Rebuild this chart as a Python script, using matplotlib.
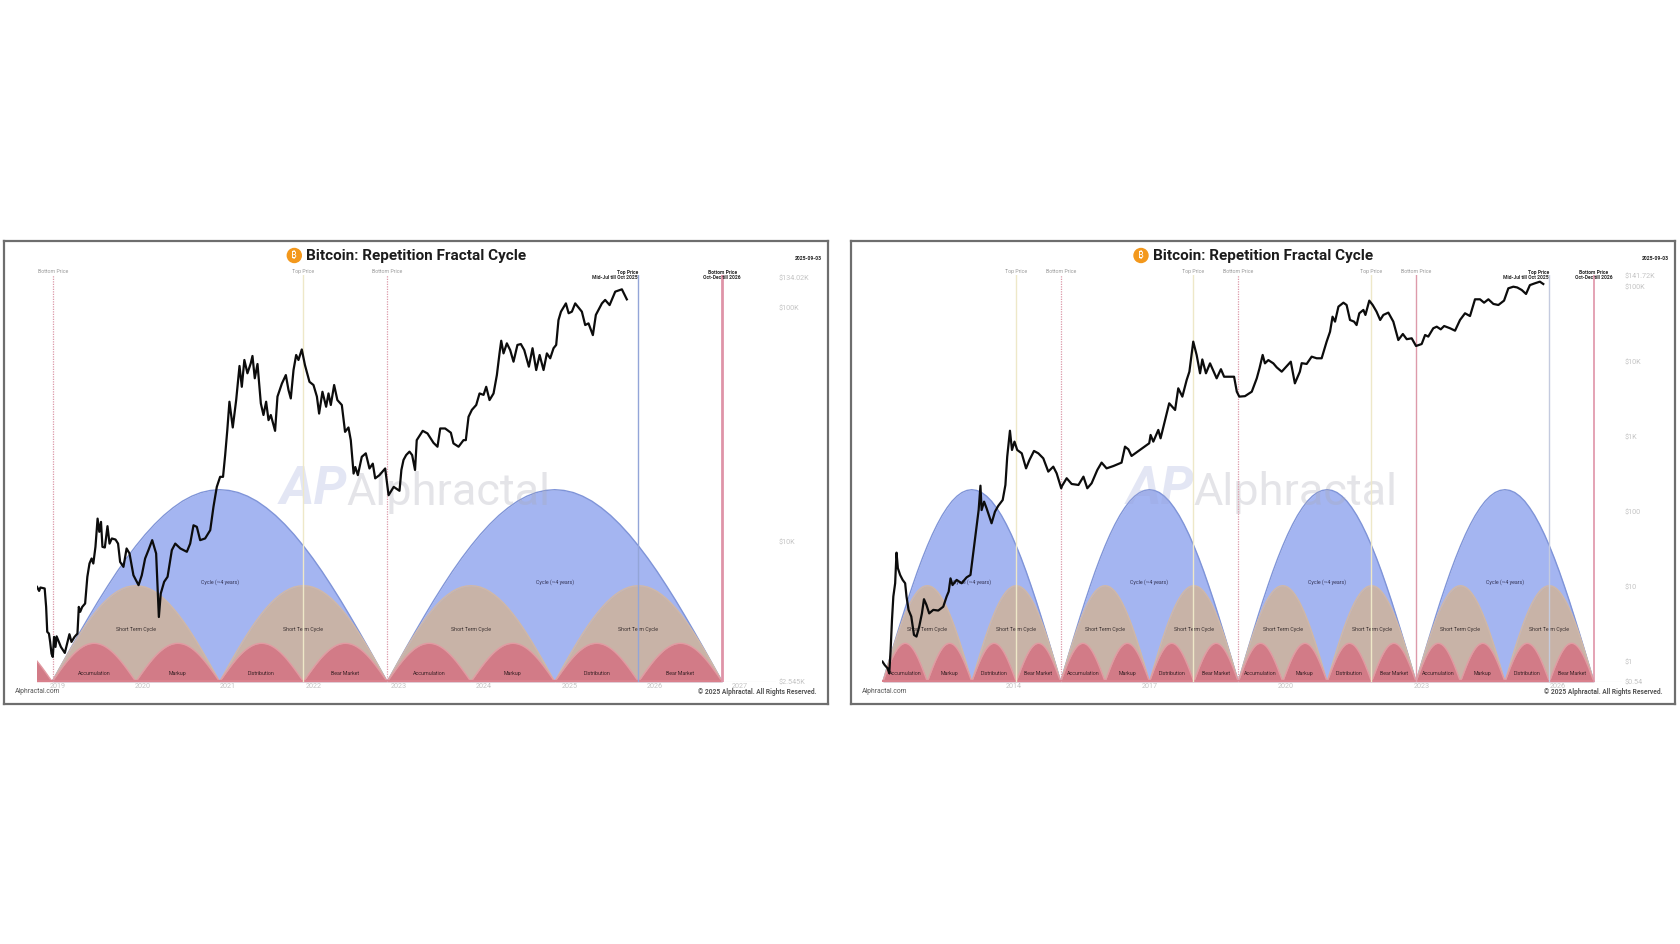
import matplotlib
matplotlib.use("Agg")
import matplotlib.pyplot as plt
from matplotlib.patches import Circle
from matplotlib.transforms import blended_transform_factory

W, H = 1680, 944
plt.rcParams['font.family'] = ['Roboto', 'DejaVu Sans']

TITLE = "Bitcoin: Repetition Fractal Cycle"

# ---- left panel data (last two cycles) ----
left_years = [2018.76,2018.785,2018.80,2018.85,2018.867,2018.88,2018.90,2018.914,2018.93,2018.945,2018.96,2018.977,2018.99,
 2019.016,2019.04,2019.086,2019.117,2019.14,2019.164,2019.2,2019.234,2019.25,2019.266,2019.29,2019.324,2019.35,2019.375,
 2019.40,2019.42,2019.445,2019.47,2019.49,2019.51,2019.527,2019.555,2019.586,2019.61,2019.637,2019.68,2019.71,2019.734,
 2019.773,2019.81,2019.844,2019.89,2019.95,2019.988,2020.027,2020.066,2020.11,2020.156,2020.188,2020.21,2020.25,2020.29,
 2020.34,2020.38,2020.44,2020.516,2020.555,2020.594,2020.633,2020.672,2020.73,2020.79,2020.828,2020.867,2020.906,2020.94,
 2020.965,2020.99,2021.015,2021.054,2021.094,2021.133,2021.16,2021.19,2021.226,2021.265,2021.285,2021.312,2021.344,2021.383,
 2021.414,2021.445,2021.473,2021.50,2021.55,2021.578,2021.63,2021.676,2021.707,2021.734,2021.766,2021.797,2021.824,2021.863,
 2021.90,2021.953,2022.0,2022.04,2022.066,2022.105,2022.148,2022.176,2022.203,2022.242,2022.28,2022.332,2022.37,2022.41,
 2022.437,2022.47,2022.49,2022.52,2022.566,2022.613,2022.656,2022.695,2022.723,2022.773,2022.84,2022.88,2022.94,2023.008,
 2023.03,2023.055,2023.086,2023.125,2023.156,2023.19,2023.21,2023.28,2023.336,2023.406,2023.453,2023.485,2023.543,2023.61,
 2023.64,2023.70,2023.758,2023.785,2023.817,2023.856,2023.907,2023.946,2023.993,2024.024,2024.063,2024.11,2024.149,2024.18,
 2024.2,2024.227,2024.266,2024.305,2024.344,2024.39,2024.43,2024.47,2024.524,2024.567,2024.61,2024.65,2024.696,2024.735,
 2024.774,2024.813,2024.844,2024.871,2024.9,2024.958,2024.99,2025.028,2025.067,2025.145,2025.184,2025.223,2025.274,2025.309,
 2025.38,2025.418,2025.47,2025.536,2025.614,2025.672]
left_prices = [6450,6200,6410,6350,5300,4150,4080,3760,3350,3245,3950,3580,3970,
 3760,3580,3375,3760,4055,3760,3950,4080,5300,5050,5300,5480,7120,8110,
 8520,8110,9550,12600,11070,12200,9550,9490,11700,9860,10370,10260,9860,8240,
 7850,9400,8950,7230,6560,7230,8520,9250,10200,8950,4800,6040,6780,7120,
 9250,9860,9400,9100,9860,11800,11620,10200,10370,11250,14150,17200,18980,18980,
 23500,30000,39650,30800,40300,56300,45900,59700,52400,57800,62100,49900,57400,39000,
 34800,39650,33100,34800,29800,41700,47400,51500,44500,40950,54100,62700,59700,66200,
 56800,48200,46700,41700,35300,43700,37750,43000,38400,46700,40300,38400,29500,30800,
 27200,19600,20900,19300,23100,23900,20600,21600,18700,19300,20600,15850,17200,16550,
 20300,22400,23500,24300,23500,20300,27200,29800,29050,26500,25500,30500,30500,29250,
 26350,25500,27200,27200,34200,36600,38400,43000,42400,45900,40300,43000,51500,63700,
 72100,63700,70300,65800,58700,69200,69800,65800,55900,67000,54100,62700,54100,63700,
 60700,67000,69200,88300,95900,104000,94400,95900,104000,95900,84100,85500,76200,92900,
 104000,107600,102300,116700,119400,108200]

# ---- right panel data (full history) ----
right_years = [2011.11,2011.16,2011.22,2011.26,2011.29,2011.32,2011.35,2011.39,2011.42,2011.45,2011.5,2011.555,2011.61,2011.64,
 2011.685,2011.745,2011.805,2011.86,2011.92,2011.98,2012.025,2012.08,2012.14,2012.23,2012.34,2012.45,2012.525,2012.57,2012.61,
 2012.655,2012.745,2012.855,2012.965,2013.05,2013.11,2013.185,2013.23,2013.27,2013.295,2013.35,2013.405,2013.515,2013.59,2013.66,
 2013.76,2013.82,2013.86,2013.92,2013.965,2014.02,2014.08,2014.18,2014.275,2014.35,2014.45,2014.545,2014.655,2014.765,2014.875,
 2014.95,2015.05,2015.06,2015.17,2015.28,2015.43,2015.54,2015.625,2015.72,2015.846,2015.94,2016.05,2016.2,2016.38,2016.456,2016.53,
 2016.6,2016.785,2016.99,2017.02,2017.08,2017.19,2017.24,2017.34,2017.43,2017.56,2017.63,2017.72,2017.815,2017.875,2017.96,2018.035,
 2018.11,2018.16,2018.24,2018.33,2018.476,2018.57,2018.64,2018.86,2018.92,2018.975,2019.1,2019.25,2019.36,2019.42,2019.49,2019.54,
 2019.615,2019.725,2019.8,2019.91,2020.11,2020.2,2020.31,2020.35,2020.46,2020.57,2020.68,2020.79,2020.9,2020.975,2021.03,2021.085,
 2021.16,2021.27,2021.34,2021.415,2021.505,2021.56,2021.62,2021.71,2021.755,2021.84,2021.915,2022.0,2022.08,2022.15,2022.26,2022.37,
 2022.48,2022.58,2022.665,2022.775,2022.87,2022.995,2023.07,2023.14,2023.25,2023.327,2023.415,2023.49,2023.62,2023.73,2023.84,2023.95,
 2024.06,2024.17,2024.28,2024.37,2024.465,2024.575,2024.685,2024.81,2024.905,2025.015,2025.1,2025.2,2025.295,2025.38,2025.49,2025.6,2025.675]
right_prices = [1.0,.90,.82,.70,1.43,3.6,7.4,11.1,28.4,17.6,14.3,12.3,11.1,7.4,
 4.9,4.0,2.27,2.16,2.93,4.4,6.8,5.7,4.4,4.9,4.8,5.4,7.4,8.6,12.9,
 10.5,12.3,11.1,13.3,14.3,27.9,63,105,222,105,136,111,70,100,119,
 143,227,542,1200,665,859,665,600,378,489,645,600,514,342,398,
 324,205,216,279,234,227,293,205,239,360,451,378,406,451,736,678,
 553,665,817,1054,859,1230,951,1671,2786,2270,4416,3420,5700,7360,18500,12270,
 7000,10700,7000,9500,6000,7940,6300,6300,3980,3420,3470,3980,6000,8150,12300,9500,
 10500,9500,8400,7360,10000,5140,7360,9550,9330,11670,11100,11100,18500,25100,39800,34200,
 54200,61200,57000,36000,34200,30800,44200,49000,42000,65200,57000,46500,36000,42000,45100,34200,
 19450,23400,19950,20500,16200,17200,22700,21600,27900,29300,27000,29900,27900,25900,36000,44200,
 40600,67900,67900,61200,67900,58900,57000,65200,95100,100000,97700,90400,80000,105000,111000,116700,108600]

# ---- cycle layout ----
left_cycle_edges = [2018.937, 2022.864, 2026.79]
right_cycle_edges = [2011.12, 2015.038, 2018.953, 2022.87, 2026.79]
phase_names = ["Accumulation", "Markup", "Distribution", "Bear Market"]
short_name = "Short Term Cycle"
long_name = "Cycle (~4 years)"
arc_heights = [100, 50, 20]   # long, short, phase
# half arc profile as read from the shape of the domes
arc_profile = [0,.087,.174,.259,.342,.423,.5,.574,.643,.707,.766,.819,.866,.906,.94,.966,.985,.996,1]

left_ticks_x = [2019,2020,2021,2022,2023,2024,2025,2026,2027]
right_ticks_x = [2014,2017,2020,2023,2026]
left_ticks_y = [2545,10000,100000,134020]
left_ticklabels_y = ["$2.545K","$10K","$100K","$134.02K"]
right_ticks_y = [0.54,1,10,100,1000,10000,100000,141720]
right_ticklabels_y = ["$0.54","$1","$10","$100","$1K","$10K","$100K","$141.72K"]

left_vlines = [(2018.945,"Bottom Price",None,'#dc98a8',0.9,(0,(1,1))),
               (2021.875,"Top Price",None,'#eee8c8',1.0,'-'),
               (2022.865,"Bottom Price",None,'#dc98a8',0.9,(0,(1,1))),
               (2025.80,"Top Price","Mid-Jul till Oct 2025",'#93a5d8',1.0,'-'),
               (2026.79,"Bottom Price","Oct-Dec till 2026",'#df94a8',2.0,'-')]
right_vlines = [(2014.05,"Top Price",None,'#eee8c8',1.0,'-'),
                (2015.038,"Bottom Price",None,'#dc98a8',0.9,(0,(1,1))),
                (2017.96,"Top Price",None,'#eee8c8',1.0,'-'),
                (2018.953,"Bottom Price",None,'#dc98a8',0.9,(0,(1,1))),
                (2021.88,"Top Price",None,'#eee8c8',1.0,'-'),
                (2022.87,"Bottom Price",None,'#dd9aaa',1.0,'-'),
                (2025.80,"Top Price","Mid-Jul till Oct 2025",'#c4cbdf',1.0,'-'),
                (2026.79,"Bottom Price","Oct-Dec till 2026",'#df94a8',1.2,'-')]

fig = plt.figure(figsize=(W/100, H/100), dpi=100, facecolor='white')

def px_axes(x0, y0, x1, y1, **kw):
    return fig.add_axes([x0/W, 1-y1/H, (x1-x0)/W, (y1-y0)/H], **kw)

def arc(ax, start, end, height, fill, edge, lw, z):
    half = list(arc_profile) + list(arc_profile[-2::-1])
    n = len(half)-1
    xs = [start + (end-start)*i/n for i in range(n+1)]
    ys = [height*v for v in half]
    ax.fill_between(xs, 0, ys, color=fill, lw=0, zorder=z)
    ax.plot(xs, ys, color=edge, lw=lw, zorder=z+0.1, solid_capstyle='butt')

def panel(frame, box, xlim, ylim, years, prices, edges, ticks_x, ticks_y, labels_y, vlines, wm_px, stub, date_txt):
    fx0, fy0, fx1, fy1 = frame
    fr = px_axes(fx0, fy0, fx1, fy1, zorder=0)
    fr.set_xlim(fx0, fx1); fr.set_ylim(fy1, fy0)
    fr.set_xticks([]); fr.set_yticks([])
    for s in fr.spines.values():
        s.set_color('#6e6e6e'); s.set_linewidth(1.6)
    fr.text(fx0+302, 256, TITLE, fontsize=11, fontweight='bold', color='#1c1c1c', ha='left', va='center', zorder=5)
    fr.add_patch(Circle((fx0+290, 255.5), 7, color='#f3981c', zorder=5))
    fr.text(fx0+290, 255.5, "₿", fontsize=7, color='white', ha='center', va='center',
            family=['Noto Sans', 'Inter', 'Open Sans', 'Lato', 'DejaVu Sans'], zorder=6)
    fr.text(fx1-6, 258.5, date_txt, fontsize=3.6, fontweight='bold', color='#222222', ha='right', va='center')
    fr.text(fx0+11, 691.5, "Alphractal.com", fontsize=4.9, color='#555555', ha='left', va='center')
    fr.text(fx1-12, 691.5, "© 2025 Alphractal. All Rights Reserved.", fontsize=4.8, fontweight='bold', color='#555555', ha='right', va='center')

    arcs = px_axes(*box, zorder=1)
    arcs.patch.set_visible(False)
    arcs.set_xlim(*xlim); arcs.set_ylim(0, 211.8)
    arcs.axis('off')
    arcs.axhline(0, color='#d8d8d8', lw=0.8, zorder=0.5)
    for a, b in zip(edges[:-1], edges[1:]):
        arc(arcs, a, b, arc_heights[0], '#a4b5f1', '#7f94d8', 1.0, 1)
        arcs.text((a+b)/2, 52, long_name, fontsize=3.8, color='#333355', ha='center', va='center', zorder=6)
        m = (a+b)/2
        for c, d in ((a, m), (m, b)):
            arc(arcs, c, d, arc_heights[1], '#c8b3a7', '#d0b8a8', 1.0, 2)
            arcs.text((c+d)/2, 27.2, short_name, fontsize=3.8, color='#3a3030', ha='center', va='center', zorder=6)
        q = [a, (a+m)/2, m, (m+b)/2, b]
        for i in range(4):
            arc(arcs, q[i], q[i+1], arc_heights[2], '#d27b87', '#e29aa2', 1.0, 3)
            arcs.text((q[i]+q[i+1])/2, 4.3, phase_names[i], fontsize=3.8, color='#3a2226', ha='center', va='center', zorder=6)
    if stub:
        width = (edges[1]-edges[0])/4
        arc(arcs, edges[0]-width, edges[0], arc_heights[2], '#d27b87', '#e29aa2', 1.0, 3)
    arcs.plot([xlim[0], edges[-1]], [0.3, 0.3], color='#d9808c', lw=1.6, zorder=4, solid_capstyle='butt')

    ax = px_axes(*box, zorder=2)
    ax.patch.set_visible(False)
    ax.set_yscale('log')
    ax.set_xlim(*xlim); ax.set_ylim(*ylim)
    for s in ax.spines.values():
        s.set_visible(False)
    ax.yaxis.tick_right()
    ax.set_xticks(ticks_x); ax.set_xticklabels([str(t) for t in ticks_x])
    ax.set_yticks(ticks_y); ax.set_yticklabels(labels_y)
    ax.minorticks_off()
    ax.tick_params(axis='both', length=0, labelsize=5.2, labelcolor='#c4c4c4', pad=1)
    ax.tick_params(axis='y', pad=1.5)
    trans = blended_transform_factory(ax.transData, ax.transAxes)
    for xv, name, sub, col, lw, ls in vlines:
        ax.axvline(xv, color=col, lw=lw, ls=ls, zorder=3)
        if sub is None:
            ax.text(xv, 1.003, name, transform=trans, fontsize=3.8, color='#9a9a9a', ha='center', va='bottom')
        else:
            ha = 'right' if name.startswith('Top') else 'center'
            ax.text(xv, 1.0, name + "\n" + sub, transform=trans, fontsize=3.6, fontweight='bold', color='#2a2a2a',
                    ha=ha, va='center', linespacing=0.95)
    # watermark, in panel pixels
    wx, wy = wm_px
    fr2 = px_axes(fx0, fy0, fx1, fy1, zorder=1.5)
    fr2.patch.set_visible(False); fr2.axis('off')
    fr2.set_xlim(fx0, fx1); fr2.set_ylim(fy1, fy0)
    fr2.text(wx, wy, "Alphractal", fontsize=32.5, color='#a8a8b4', alpha=0.3, ha='left', va='center', zorder=2)
    fr2.text(wx-33, wy-3, "AP", fontsize=38, fontweight='bold', fontstyle='italic', color='#9aa4d8', alpha=0.27, ha='center', va='center', zorder=2)

    ax.plot(years, prices, color='#0c0c0c', lw=1.6, solid_joinstyle='round', zorder=5)
    return ax

panel((4.3, 241, 828, 703.5), (37, 275, 776, 681.7), (2018.76, 2027.42), (2545, 137400),
      left_years, left_prices, left_cycle_edges, left_ticks_x, left_ticks_y, left_ticklabels_y,
      left_vlines, (346, 492), True, "2025-09-03")
panel((851, 241, 1675, 703.5), (882, 275, 1622, 681.7), (2011.10, 2027.41), (0.54, 143200),
      right_years, right_prices, right_cycle_edges, right_ticks_x, right_ticks_y, right_ticklabels_y,
      right_vlines, (1193, 492), False, "2025-09-03")

fig.savefig("out.png", dpi=100, facecolor='white')
